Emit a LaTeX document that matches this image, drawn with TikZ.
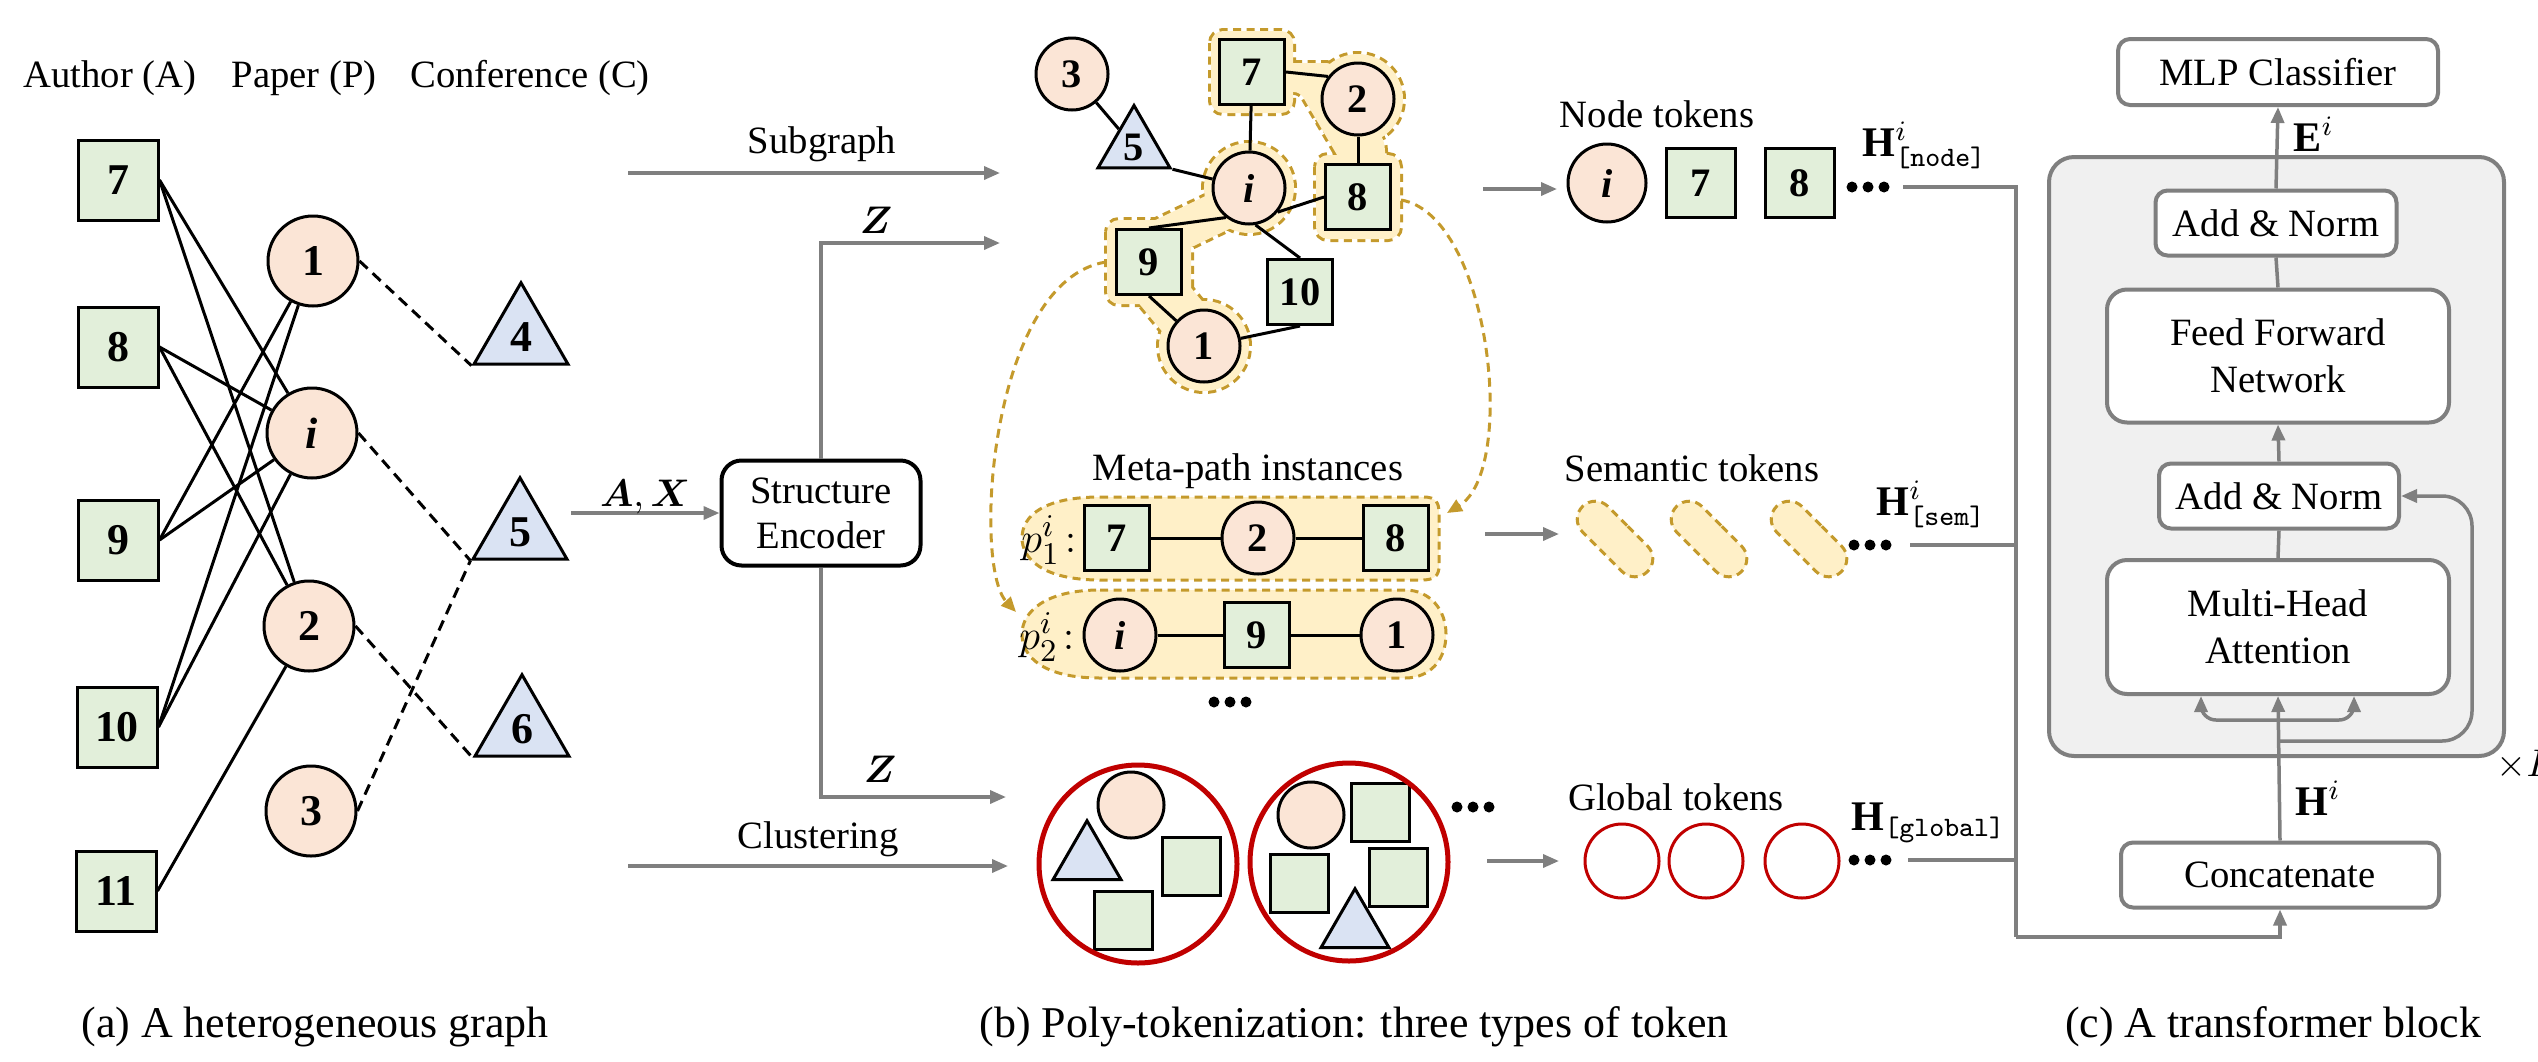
\documentclass[tikz,border=0pt]{standalone}
\usepackage{amsmath}
\usepackage{bm}
\usepackage{fontspec}
\setmainfont{Liberation Serif}
\usetikzlibrary{shapes.geometric,shapes.misc,arrows.meta,calc}

\definecolor{boxgreen}{HTML}{E2EFDA}
\definecolor{nodepeach}{HTML}{FBE5D6}
\definecolor{triblue}{HTML}{DAE3F3}
\definecolor{hlfill}{HTML}{FFF0C8}
\definecolor{hlline}{HTML}{C49A2C}
\definecolor{clusterred}{HTML}{C00000}
\definecolor{flowgrey}{HTML}{7F7F7F}
\definecolor{blockfill}{HTML}{F0F0F0}

\tikzset{
  tdots/.pic={\fill (-16,0) circle (0.55mm) (0,0) circle (0.55mm) (16,0) circle (0.55mm);},
  nodeline/.style={draw=black, line width=0.3mm, inner sep=0pt},
  numfont/.style={font=\fontsize{12.5}{14}\selectfont\bfseries},
  smallnum/.style={font=\fontsize{11.5}{13}\selectfont\bfseries},
  asq/.style={nodeline, rectangle, fill=boxgreen, minimum size=8mm, numfont},
  acirc/.style={nodeline, circle, fill=nodepeach, minimum size=9mm, numfont},
  atri/.style={nodeline, regular polygon, regular polygon sides=3, fill=triblue, minimum size=10.85mm, numfont},
  ssq/.style={asq, minimum size=6.5mm, smallnum},
  scirc/.style={acirc, minimum size=7.2mm, smallnum},
  stri/.style={atri, minimum size=8.3mm, smallnum},
  ksq/.style={asq, minimum size=5.8mm},
  kcirc/.style={acirc, minimum size=6.6mm},
  ktri/.style={atri, minimum size=7.85mm},
  link/.style={draw=black, line width=0.3mm},
  dlink/.style={draw=black, line width=0.3mm, dash pattern=on 1.1mm off 0.7mm},
  garrow/.style={draw=flowgrey, line width=0.35mm, -{Triangle[length=1.6mm,width=1.3mm]}},
  gline/.style={draw=flowgrey, line width=0.35mm},
  goldarrow/.style={draw=hlline, line width=0.3mm, dash pattern=on 0.9mm off 0.6mm, -{Triangle[length=1.5mm,width=1.3mm]}},
  label/.style={inner sep=0pt, anchor=base},
  encoder/.style={draw=black, line width=0.4mm, rounded corners=2mm, fill=white, minimum width=19.9mm, minimum height=10.5mm, align=center, font=\fontsize{11}{12.8}\selectfont},
  bubble/.style={fill=hlfill, draw=hlline, line width=0.3mm, dash pattern=on 0.8mm off 0.55mm},
  capsule/.style={rounded rectangle, fill=hlfill, draw=hlline, line width=0.3mm, dash pattern=on 0.8mm off 0.55mm, minimum width=9.2mm, minimum height=3.6mm, inner sep=0pt, rotate=-45},
  gtok/.style={circle, draw=clusterred, line width=0.3mm, minimum size=7.4mm, inner sep=0pt},
  cluster/.style={circle, draw=clusterred, line width=0.5mm, minimum size=19.8mm, inner sep=0pt},
  tblock/.style={draw=flowgrey, line width=0.4mm, fill=white, rounded corners=1.2mm, align=center, inner sep=0pt, font=\fontsize{11}{13.5}\selectfont},
  bigblock/.style={draw=flowgrey, line width=0.4mm, fill=blockfill, rounded corners=2.5mm, inner sep=0pt},
}

\begin{document}
\begin{tikzpicture}[x=0.1mm, y=-0.1mm, font=\fontsize{11}{13}\selectfont]
\useasboundingbox (0,0) rectangle (2538,1061);

% ---------------- (a) heterogeneous graph ----------------
\node[label] (hA) at (110,87) {Author (A)};
\node[label] (hP) at (304,87) {Paper (P)};
\node[label] (hC) at (530,87) {Conference (C)};

\node[asq] (a7)  at (118,180) {7};
\node[asq] (a8)  at (118,347) {8};
\node[asq] (a9)  at (118,540) {9};
\node[asq] (a10) at (117,727) {10};
\node[asq] (a11) at (116,891) {11};

\node[acirc] (p1) at (313,261) {1};
\node[acirc] (pi) at (312,433) {\textit{i}};
\node[acirc] (p2) at (309,626) {2};
\node[acirc] (p3) at (311,811) {3};

\node[atri] (c4) at (521,337) {4};
\node[atri] (c5) at (520,532) {5};
\node[atri] (c6) at (522,729) {6};

\draw[link] (a7.east) -- (pi);
\draw[link] (a7.east) -- (p2);
\draw[link] (a8.east) -- (pi);
\draw[link] (a8.east) -- (p2);
\draw[link] (a9.east) -- (p1);
\draw[link] (a9.east) -- (pi);
\draw[link] (a10.east) -- (p1);
\draw[link] (a10.east) -- (pi);
\draw[link] (a11.east) -- (p2);

\draw[dlink] (p1.east) -- (c4.corner 2);
\draw[dlink] (pi.east) -- (c5.corner 2);
\draw[dlink] (p2.east) -- (c6.corner 2);
\draw[dlink] (p3.east) -- (c5.corner 2);

% ---------------- (b) poly-tokenization ----------------
\node[encoder] (enc) at (821,513) {Structure\\Encoder};
\coordinate (axin) at (571,513);
\draw[garrow] (axin) -- (enc.west);
\node[label] (axl) at (645,506) {$\bm{A},\bm{X}$};

\coordinate (zt) at (1000,243);
\coordinate (zb) at (1006,797);
\draw[garrow] (enc.north) |- (zt);
\draw[garrow] (enc.south) |- (zb);
\node[label] (ztl) at (876,233) {$\bm{Z}$};
\node[label] (zbl) at (880,782) {$\bm{Z}$};

\coordinate (sgs) at (628,173);
\coordinate (sge) at (1000,173);
\draw[garrow] (sgs) -- (sge);
\node[label] (sgl) at (822,153) {Subgraph};

\coordinate (cls) at (628,866);
\coordinate (cle) at (1008,866);
\draw[garrow] (cls) -- (cle);
\node[label] (cll) at (818,848) {Clustering};

% highlighted meta-path instances in the subgraph: dashed outlines, then fills
\begin{scope}[draw=hlline, line width=0.6mm, dash pattern=on 0.8mm off 0.55mm]
  \draw[rounded corners=1.2mm] (1211,31) rectangle (1293,113);
  \draw (1358,99) circle (4.5mm);
  \draw[rounded corners=1.2mm] (1316,155) rectangle (1400,239);
  \draw[rounded corners=0.6mm] (1288,63) -- (1332,63) -- (1384,140) -- (1386,162) -- (1340,160) -- (1300,92) -- (1288,92) -- cycle;
  \draw (1249,188) circle (4.5mm);
  \draw[rounded corners=1.2mm] (1107,220) rectangle (1191,304);
  \draw (1204,346) circle (4.5mm);
  \draw[line width=4.6mm] (1160,240) -- (1235,204);
  \draw[line width=5.6mm] (1152,280) -- (1200,338);
\end{scope}
\begin{scope}[fill=hlfill, draw=hlfill]
  \fill[rounded corners=1.2mm] (1211,31) rectangle (1293,113);
  \fill (1358,99) circle (4.5mm);
  \fill[rounded corners=1.2mm] (1316,155) rectangle (1400,239);
  \fill[rounded corners=0.6mm] (1288,63) -- (1332,63) -- (1384,140) -- (1386,162) -- (1340,160) -- (1300,92) -- (1288,92) -- cycle;
  \fill (1249,188) circle (4.5mm);
  \fill[rounded corners=1.2mm] (1107,220) rectangle (1191,304);
  \fill (1204,346) circle (4.5mm);
  \draw[line width=4mm] (1160,240) -- (1235,204);
  \draw[line width=5mm] (1152,280) -- (1200,338);
\end{scope}

% subgraph around node i
\node[scirc] (s3)  at (1072,74)  {3};
\node[stri]  (s5)  at (1134,147) {5};
\node[ssq]   (s7)  at (1252,72)  {7};
\node[scirc] (s2)  at (1358,99)  {2};
\node[scirc] (si)  at (1249,188) {\textit{i}};
\node[ssq]   (s8)  at (1358,197) {8};
\node[ssq]   (s9)  at (1149,262) {9};
\node[ssq]   (s10) at (1300,292) {10};
\node[scirc] (s1)  at (1204,346) {1};

\draw[link] (s3) -- (s5);
\draw[link] (s5.corner 3) -- (si);
\draw[link] (s7) -- (si);
\draw[link] (s7.east) -- (s2.143);
\draw[link] (s2) -- (s8);
\draw[link] (si.-40) -- (s8.west);
\draw[link] (si.-128) -- (s9.north);
\draw[link] (si.-80) -- (s10.north);
\draw[link] (s9.south) -- (s1);
\draw[link] (s1) -- (s10.south);

% meta-path instances
\node[label] (mpl) at (1248,480) {Meta-path instances};
\path[bubble] (1100,497) -- (1424,497) .. controls (1436,497) and (1439,503) .. (1439,513) -- (1439,566) .. controls (1439,576) and (1434,580) .. (1422,580) -- (1100,580) .. controls (1042,580) and (1022,558) .. (1022,538) .. controls (1022,515) and (1045,497) .. (1100,497) -- cycle;
\path[bubble] (1100,590) -- (1405,590) .. controls (1430,590) and (1446,610) .. (1446,634) .. controls (1446,660) and (1430,678) .. (1405,678) -- (1100,678) .. controls (1042,678) and (1022,656) .. (1022,634) .. controls (1022,612) and (1045,590) .. (1100,590) -- cycle;

\coordinate (hullA) at (1401,200);
\coordinate (bubA) at (1447,513);
\draw[goldarrow] (hullA) .. controls (1490,215) and (1518,470) .. (bubA);
\coordinate (hullB) at (1106,262);
\coordinate (bubB) at (1016,612);
\draw[goldarrow] (hullB) .. controls (990,280) and (972,565) .. (bubB);

\node[inner sep=0pt, anchor=east, font=\fontsize{12.5}{15}\selectfont] (pl1) at (1077,540) {$p^{i}_{1}\!:$};
\node[ssq]   (m7)  at (1117,538) {7};
\node[scirc] (m2)  at (1258,538) {2};
\node[ssq]   (m8)  at (1396,538) {8};
\draw[link] (m7) -- (m2);
\draw[link] (m2) -- (m8);

\node[inner sep=0pt, anchor=east, font=\fontsize{12.5}{15}\selectfont] (pl2) at (1075,637) {$p^{i}_{2}\!:$};
\node[scirc] (mi)   at (1120,635) {\textit{i}};
\node[ssq]   (m9)   at (1257,635) {9};
\node[scirc] (mone) at (1397,635) {1};
\draw[link] (mi) -- (m9);
\draw[link] (m9) -- (mone);
\pic at (1230,702) {tdots};

% clusters
\node[kcirc] (k1c)  at (1131,805) {};
\node[ktri]  (k1t)  at (1087,860) {};
\node[ksq]   (k1s1) at (1191,866) {};
\node[ksq]   (k1s2) at (1123,920) {};
\node[cluster] (cl1) at (1138,864) {};

\node[kcirc] (k2c)  at (1311,815) {};
\node[ksq]   (k2s1) at (1380,812) {};
\node[ksq]   (k2s2) at (1299,883) {};
\node[ksq]   (k2s3) at (1398,877) {};
\node[ktri]  (k2t)  at (1355,928) {};
\node[cluster] (cl2) at (1349,862) {};
\pic at (1473,807) {tdots};

% node tokens
\node[label] (ntl) at (1657,127) {Node tokens};
\coordinate (nta) at (1483,189);
\coordinate (ntb) at (1557,189);
\draw[garrow] (nta) -- (ntb);
\node[acirc, minimum size=7.8mm, smallnum] (ti) at (1607,183) {\textit{i}};
\node[asq, minimum size=6.9mm, smallnum] (t7) at (1701,183) {7};
\node[asq, minimum size=6.9mm, smallnum] (t8) at (1800,183) {8};
\pic at (1868,187) {tdots};
\node[inner sep=0pt, anchor=base west, font=\fontsize{12}{14}\selectfont] (hnl) at (1862,156) {$\mathbf{H}^{i}_{\texttt{[node]}}$};

% semantic tokens
\node[label] (stl) at (1692,481) {Semantic tokens};
\coordinate (sta) at (1485,534);
\coordinate (stb) at (1559,534);
\draw[garrow] (sta) -- (stb);
\node[capsule] (sc1) at (1615,539) {};
\node[capsule] (sc2) at (1709,539) {};
\node[capsule] (sc3) at (1809,539) {};
\pic at (1870,545) {tdots};
\node[inner sep=0pt, anchor=base west, font=\fontsize{12}{14}\selectfont] (hsl) at (1876,515) {$\mathbf{H}^{i}_{\texttt{[sem]}}$};

% global tokens
\node[label] (gtl) at (1676,810) {Global tokens};
\coordinate (gta) at (1487,861);
\coordinate (gtb) at (1559,861);
\draw[garrow] (gta) -- (gtb);
\node[gtok] (g1) at (1622,861) {};
\node[gtok] (g2) at (1706,861) {};
\node[gtok] (g3) at (1802,861) {};
\pic at (1870,860) {tdots};
\node[inner sep=0pt, anchor=base west, font=\fontsize{12}{14}\selectfont] (hgl) at (1851,830) {$\mathbf{H}_{\texttt{[global]}}$};

% ---------------- (c) transformer block ----------------
\node[bigblock, minimum width=45.5mm, minimum height=59.9mm] (blk) at (2276.5,456.5) {};
\node[tblock, minimum width=32mm, minimum height=6.6mm] (mlp) at (2278,72) {MLP Classifier};
\node[tblock, minimum width=24.1mm, minimum height=6.5mm] (an2) at (2276,223) {Add \& Norm};
\node[tblock, rounded corners=2mm, minimum width=34.2mm, minimum height=13.3mm] (ffn) at (2278,356) {Feed Forward\\Network};
\node[tblock, minimum width=24mm, minimum height=6.5mm] (an1) at (2279,496) {Add \& Norm};
\node[tblock, rounded corners=2mm, minimum width=34.2mm, minimum height=13.4mm] (mha) at (2278,627) {Multi-Head\\Attention};
\node[tblock, minimum width=31.8mm, minimum height=6.5mm] (concat) at (2280,875) {Concatenate};

\draw[garrow] (an2.north) -- (mlp.south);
\node[inner sep=0pt, anchor=base west, font=\fontsize{12}{14}\selectfont] (el) at (2293,151) {$\mathbf{E}^{i}$};
\draw[gline] (ffn.north) -- (an2.south);
\draw[garrow] (an1.north) -- (ffn.south);
\draw[gline] (mha.north) -- (an1.south);
\draw[garrow] (concat.north) -- (mha.south);
\draw[gline, {Triangle[length=1.6mm,width=1.3mm]}-{Triangle[length=1.6mm,width=1.3mm]}, rounded corners=1.5mm]
  ($(mha.south)+(-77,0)$) -- ++(0,24) -- ++(153,0) -- ++(0,-24);
\coordinate (res) at (2280,741);
\draw[garrow, rounded corners=3mm] (res) -- (2472,741) -- (2472,496) -- (an1.east);
\node[inner sep=0pt, anchor=base west, font=\fontsize{12}{14}\selectfont] (hil) at (2295,815) {$\mathbf{H}^{i}$};
\node[inner sep=0pt, anchor=base west] (xl) at (2496,776) {$\times L$};

% token streams gathered into the concatenation
\coordinate (hn) at (1903,187);
\coordinate (hs) at (1910,545);
\coordinate (hg) at (1908,860);
\coordinate (cj) at (2016,937);
\draw[gline] (hn) -| (cj);
\draw[gline] (hs) -- (hs -| cj);
\draw[gline] (hg) -- (hg -| cj);
\draw[garrow] (cj) -| (concat.south);

% captions
\node[label, font=\fontsize{12.5}{14}\selectfont] (capa) at (315,1037) {(a) A heterogeneous graph};
\node[label, font=\fontsize{12.5}{14}\selectfont] (capb) at (1354,1037) {(b) Poly-tokenization: three types of token};
\node[label, font=\fontsize{12.5}{14}\selectfont] (capc) at (2273,1037) {(c) A transformer block};
\end{tikzpicture}
\end{document}
